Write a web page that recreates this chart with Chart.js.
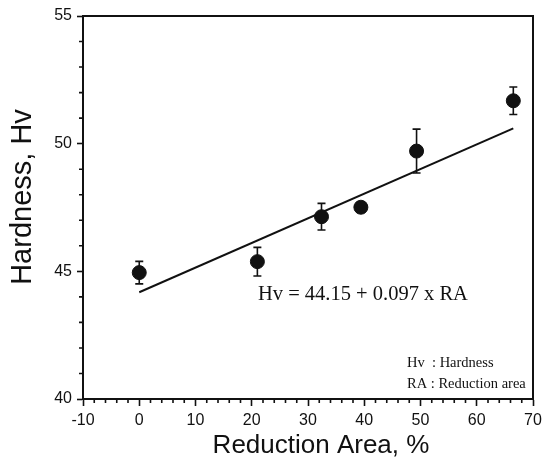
<!DOCTYPE html>
<html>
<head>
<meta charset="utf-8">
<script src="https://cdn.jsdelivr.net/npm/chart.js@4.4.1/dist/chart.umd.min.js"></script>
<style>
  html, body { margin: 0; padding: 0; background: #fff; }
  #wrap { width: 542px; height: 468px; }
</style>
</head>
<body>
<div id="wrap"><canvas id="hvChart" width="542" height="468"></canvas></div>
<script>
// data
const reductionArea = [0, 21.0, 32.4, 39.4, 49.3, 66.5];
const hardness = [44.95, 45.38, 47.14, 47.51, 49.71, 51.68];
const hardnessErr = [0.44, 0.56, 0.52, 0.2, 0.86, 0.54];

// end points of the fitted line, Hv = 44.15 + 0.097 x RA
const fitX = [0, 66.5];
const fitY = [44.18, 50.6];

const xTicks = [-10, 0, 10, 20, 30, 40, 50, 60, 70];
const yTicks = [40, 45, 50, 55];

const equationText = "Hv = 44.15 + 0.097 x RA";
const legendLines = ["Hv  : Hardness", "RA : Reduction area"];

const INK = "#111";

const decorations = {
  id: "decorations",
  beforeDatasetsDraw(chart) {
    const { ctx, scales: { x, y } } = chart;
    ctx.save();
    ctx.strokeStyle = INK;
    ctx.lineWidth = 1.6;
    hardness.forEach((v, i) => {
      const px = x.getPixelForValue(reductionArea[i]);
      const top = y.getPixelForValue(v + hardnessErr[i]);
      const bot = y.getPixelForValue(v - hardnessErr[i]);
      ctx.beginPath();
      ctx.moveTo(px, top); ctx.lineTo(px, bot);
      ctx.moveTo(px - 4, top); ctx.lineTo(px + 4, top);
      ctx.moveTo(px - 4, bot); ctx.lineTo(px + 4, bot);
      ctx.stroke();
    });
    ctx.restore();
  },
  afterDraw(chart) {
    const { ctx, chartArea: a, scales: { x, y } } = chart;
    ctx.save();
    ctx.strokeStyle = INK;

    // top and right frame
    ctx.lineWidth = 2;
    ctx.beginPath();
    ctx.moveTo(a.left, a.top); ctx.lineTo(a.right, a.top); ctx.lineTo(a.right, a.bottom);
    ctx.stroke();

    // minor ticks
    ctx.lineWidth = 1.6;
    ctx.beginPath();
    for (let v = x.min; v <= x.max; v += 2) {
      if (v % 10 === 0) continue;
      const px = x.getPixelForValue(v);
      ctx.moveTo(px, a.bottom); ctx.lineTo(px, a.bottom + 4);
    }
    for (let v = y.min; v <= y.max; v += 1) {
      if (v % 5 === 0) continue;
      const py = y.getPixelForValue(v);
      ctx.moveTo(a.left - 4, py); ctx.lineTo(a.left + 1, py);
    }
    ctx.stroke();

    // axis titles
    ctx.fillStyle = INK;
    ctx.textAlign = "center";
    ctx.textBaseline = "middle";
    ctx.font = "26px 'Liberation Sans', Arial, sans-serif";
    ctx.fillText("Reduction Area, %", 321, 446);
    ctx.save();
    ctx.translate(23, 197);
    ctx.rotate(-Math.PI / 2);
    ctx.font = "29px 'Liberation Sans', Arial, sans-serif";
    ctx.fillText("Hardness, Hv", 0, 0);
    ctx.restore();

    // equation and key
    ctx.textAlign = "left";
    ctx.textBaseline = "alphabetic";
    ctx.font = "20.5px 'Liberation Serif', 'Times New Roman', serif";
    ctx.fillText(equationText, 258, 300);
    ctx.font = "14.5px 'Liberation Serif', 'Times New Roman', serif";
    ctx.fillText(legendLines[0], 407, 367);
    ctx.fillText(legendLines[1], 407, 388);
    ctx.restore();
  },
};

new Chart(document.getElementById("hvChart"), {
  type: "scatter",
  data: {
    datasets: [
      {
        label: "Hardness",
        data: reductionArea.map((ra, i) => ({ x: ra, y: hardness[i] })),
        backgroundColor: INK,
        borderColor: INK,
        pointRadius: 7,
        pointHoverRadius: 7,
        order: 1,
      },
      {
        type: "line",
        label: "Fit",
        data: fitX.map((ra, i) => ({ x: ra, y: fitY[i] })),
        borderColor: INK,
        borderWidth: 2,
        pointRadius: 0,
        fill: false,
        order: 2,
      },
    ],
  },
  options: {
    responsive: false,
    devicePixelRatio: 1,
    animation: false,
    layout: { padding: { top: 16, right: 9, left: 0, bottom: 0 } },
    plugins: { legend: { display: false }, tooltip: { enabled: false } },
    scales: {
      x: {
        type: "linear",
        min: xTicks[0],
        max: xTicks[xTicks.length - 1],
        afterBuildTicks: (s) => { s.ticks = xTicks.map((v) => ({ value: v })); },
        afterFit: (s) => { s.height = 69; s.paddingLeft = 0; s.paddingRight = 0; },
        border: { display: true, color: INK, width: 2 },
        grid: { display: true, drawOnChartArea: false, drawTicks: true, tickLength: 7, tickWidth: 1.6, tickColor: INK },
        ticks: { color: INK, padding: 5, font: { family: "'Liberation Sans', Arial, sans-serif", size: 16 } },
      },
      y: {
        type: "linear",
        min: yTicks[0],
        max: yTicks[yTicks.length - 1],
        afterBuildTicks: (s) => { s.ticks = yTicks.map((v) => ({ value: v })); },
        afterFit: (s) => { s.width = 83; s.paddingTop = 0; s.paddingBottom = 0; },
        border: { display: true, color: INK, width: 2 },
        grid: { display: true, drawOnChartArea: false, drawTicks: true, tickLength: 6, tickWidth: 1.6, tickColor: INK },
        ticks: { color: INK, padding: 5, font: { family: "'Liberation Sans', Arial, sans-serif", size: 16 } },
      },
    },
  },
  plugins: [decorations],
});
</script>
</body>
</html>
